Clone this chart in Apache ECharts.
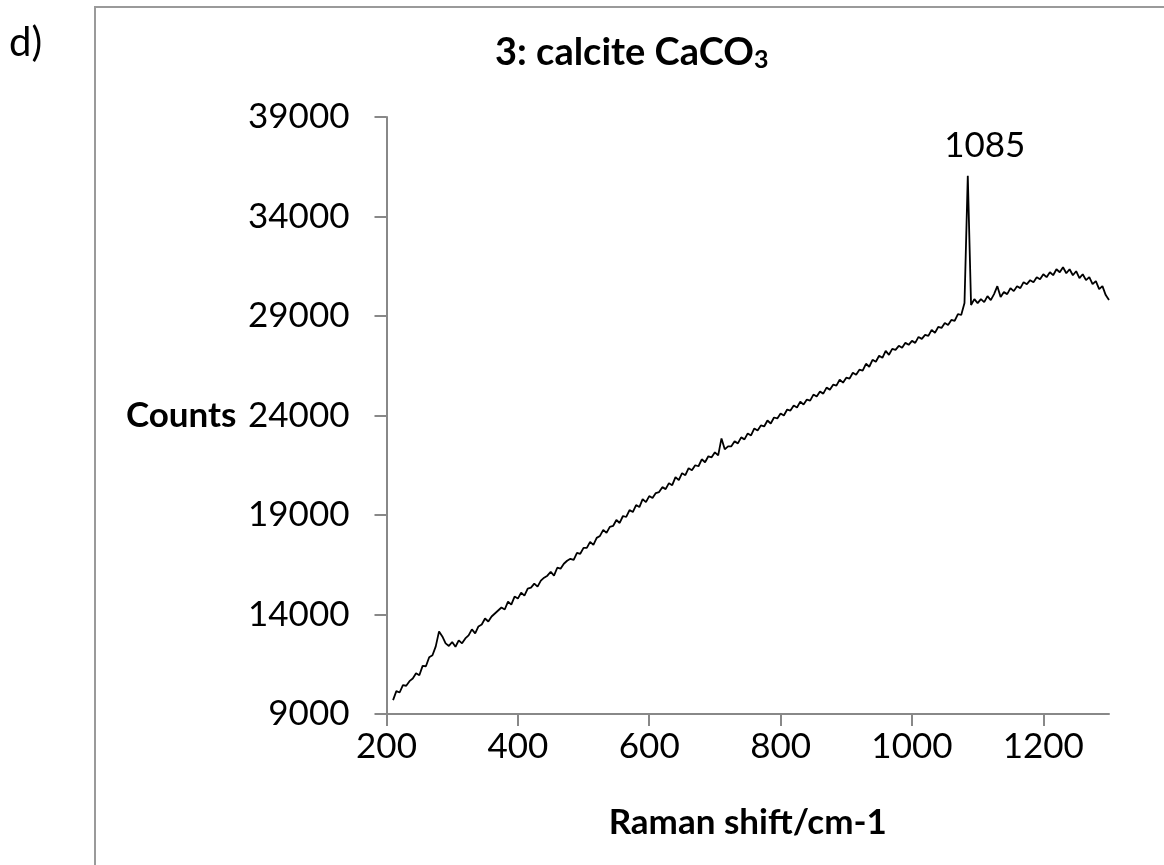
<!DOCTYPE html>
<html>
<head>
<meta charset="utf-8">
<title>3: calcite CaCO3</title>
<script src="https://cdn.jsdelivr.net/npm/echarts@6/dist/echarts.min.js"></script>
<style>
  html, body { margin: 0; padding: 0; background: #fff; }
  #chart { width: 1164px; height: 865px; }
</style>
</head>
<body>
<div id="chart"></div>
<script>
// Raman spectrum (shift in cm-1, counts)
var shift = [
  210, 215, 220, 225, 230, 235, 240, 245, 250, 255, 260, 265, 270, 275, 280, 285, 290, 295,
  300, 305, 310, 315, 320, 325, 330, 335, 340, 345, 350, 355, 360, 365, 370, 375, 380, 385, 390, 395,
  400, 405, 410, 415, 420, 425, 430, 435, 440, 445, 450, 455, 460, 465, 470, 475, 480, 485, 490, 495,
  500, 505, 510, 515, 520, 525, 530, 535, 540, 545, 550, 555, 560, 565, 570, 575, 580, 585, 590, 595,
  600, 605, 610, 615, 620, 625, 630, 635, 640, 645, 650, 655, 660, 665, 670, 675, 680, 685, 690, 695,
  700, 705, 710, 715, 720, 725, 730, 735, 740, 745, 750, 755, 760, 765, 770, 775, 780, 785, 790, 795,
  800, 805, 810, 815, 820, 825, 830, 835, 840, 845, 850, 855, 860, 865, 870, 875, 880, 885, 890, 895,
  900, 905, 910, 915, 920, 925, 930, 935, 940, 945, 950, 955, 960, 965, 970, 975, 980, 985, 990, 995,
  1000, 1005, 1010, 1015, 1020, 1025, 1030, 1035, 1040, 1045, 1050, 1055, 1060, 1065, 1070, 1075, 1080, 1085, 1090, 1095,
  1100, 1105, 1110, 1115, 1120, 1125, 1130, 1135, 1140, 1145, 1150, 1155, 1160, 1165, 1170, 1175, 1180, 1185, 1190, 1195,
  1200, 1205, 1210, 1215, 1220, 1225, 1230, 1235, 1240, 1245, 1250, 1255, 1260, 1265, 1270, 1275, 1280, 1285, 1290, 1295,
  1300
]
var counts = [
  9700, 10150, 10080, 10450, 10420, 10650, 10780, 11050, 10950, 11420, 11400, 11850, 11950, 12400, 13150, 12900, 12550, 12420,
  12620, 12380, 12700, 12550, 12800, 12950, 13250, 13050, 13400, 13500, 13800, 13650, 13900, 14050, 14200, 14350, 14250, 14650, 14500, 14900,
  14800, 15100, 14950, 15300, 15350, 15550, 15400, 15700, 15850, 15950, 16150, 15950, 16350, 16300, 16550, 16700, 16800, 16750, 17100, 17050,
  17350, 17350, 17650, 17500, 17850, 17950, 18250, 18100, 18400, 18450, 18750, 18600, 18950, 18900, 19250, 19150, 19500, 19400, 19800, 19650,
  19950, 19850, 20100, 20150, 20400, 20300, 20600, 20500, 20900, 20750, 21100, 21000, 21350, 21250, 21500, 21450, 21800, 21650, 21950, 21900,
  22150, 22000, 22850, 22300, 22450, 22450, 22700, 22600, 22900, 22800, 23100, 23000, 23350, 23250, 23500, 23450, 23750, 23600, 23900, 23850,
  24100, 24000, 24300, 24250, 24500, 24400, 24700, 24550, 24800, 24750, 25050, 24950, 25200, 25100, 25400, 25300, 25550, 25500, 25800, 25650,
  25900, 25850, 26150, 26050, 26300, 26250, 26600, 26450, 26800, 26700, 27000, 26900, 27250, 27050, 27350, 27300, 27500, 27400, 27650, 27550,
  27750, 27650, 27950, 27850, 28050, 28000, 28300, 28150, 28450, 28400, 28650, 28550, 28800, 28750, 29100, 29050, 29650, 36050, 29550, 29850,
  29650, 29850, 29700, 30000, 29800, 30100, 30500, 29950, 30200, 30100, 30400, 30250, 30500, 30400, 30700, 30600, 30800, 30700, 30950, 30850,
  31100, 30950, 31200, 31050, 31350, 31200, 31450, 31150, 31350, 31050, 31250, 30900, 31100, 30800, 30950, 30600, 30750, 30350, 30500, 30050,
  29800
]
var peakShift = [1085]
var peakCounts = [36050]
var peakLabel = ['1085']
var xTicks = [200, 1300, 200]      // min, max, interval
var yTicks = [9000, 39000, 5000]

var chart = echarts.init(document.getElementById('chart'))

var font = 'Lato'
chart.setOption({
  animation: false,
  backgroundColor: '#fff',
  title: {
    text: '{a|3: calcite CaCO}{s|3}',
    left: 490,
    top: 28,
    textStyle: {
      rich: {
        a: { fontFamily: font, fontWeight: 'bold', fontSize: 38, color: '#000' },
        s: { fontFamily: font, fontWeight: 'bold', fontSize: 25, color: '#000', verticalAlign: 'bottom', padding: [14, 0, 0, 0] }
      }
    }
  },
  graphic: [
    {
      type: 'rect',
      shape: { x: 95, y: 7, width: 1200, height: 1000 },
      style: { fill: 'none', stroke: '#9a9a9a', lineWidth: 2 },
      silent: true
    },
    {
      type: 'text',
      left: 9,
      top: 23,
      style: { text: 'd)', fontFamily: font, fontSize: 40, fill: '#000' }
    }
  ],
  grid: {
    left: 386.5,
    right: 55,
    top: 117,
    bottom: 151
  },
  xAxis: {
    type: 'value',
    min: xTicks[0],
    max: xTicks[1],
    interval: xTicks[2],
    name: 'Raman shift/cm-1',
    nameLocation: 'middle',
    nameGap: 91,
    nameTextStyle: { fontFamily: font, fontWeight: 'bold', fontSize: 35, color: '#000' },
    axisLine: { lineStyle: { color: '#888', width: 2 } },
    axisTick: { length: 12, lineStyle: { color: '#888', width: 2 } },
    axisLabel: {
      margin: 15,
      fontFamily: font,
      fontSize: 35,
      color: '#000',
      showMaxLabel: false,
      formatter: function (v) { return String(v) }
    },
    splitLine: { show: false }
  },
  yAxis: {
    type: 'value',
    min: yTicks[0],
    max: yTicks[1],
    interval: yTicks[2],
    name: 'Counts',
    nameLocation: 'middle',
    nameRotate: 0,
    nameGap: 150,
    nameTextStyle: { fontFamily: font, fontWeight: 'bold', fontSize: 35, color: '#000' },
    axisLine: { show: true, lineStyle: { color: '#888', width: 2 } },
    axisTick: { show: true, length: 12, lineStyle: { color: '#888', width: 2 } },
    axisLabel: {
      margin: 37,
      fontFamily: font,
      fontSize: 35,
      color: '#000',
      formatter: function (v) { return String(v) }
    },
    splitLine: { show: false }
  },
  series: [
    {
      type: 'line',
      data: shift.map(function (s, i) { return [s, counts[i]] }),
      showSymbol: false,
      symbol: 'none',
      lineStyle: { color: '#000', width: 1.8 },
      z: 3,
      markPoint: {
        symbol: 'circle',
        symbolSize: 0,
        itemStyle: { color: '#000' },
        label: {
          show: true,
          position: 'top',
          distance: 12,
          offset: [17, 0],
          fontFamily: font,
          fontSize: 35,
          color: '#000',
          opacity: 1,
          textBorderWidth: 0,
          formatter: function (p) { return p.name }
        },
        data: peakShift.map(function (s, i) {
          return { name: peakLabel[i], coord: [s, peakCounts[i]] }
        })
      }
    }
  ]
})
</script>
</body>
</html>
